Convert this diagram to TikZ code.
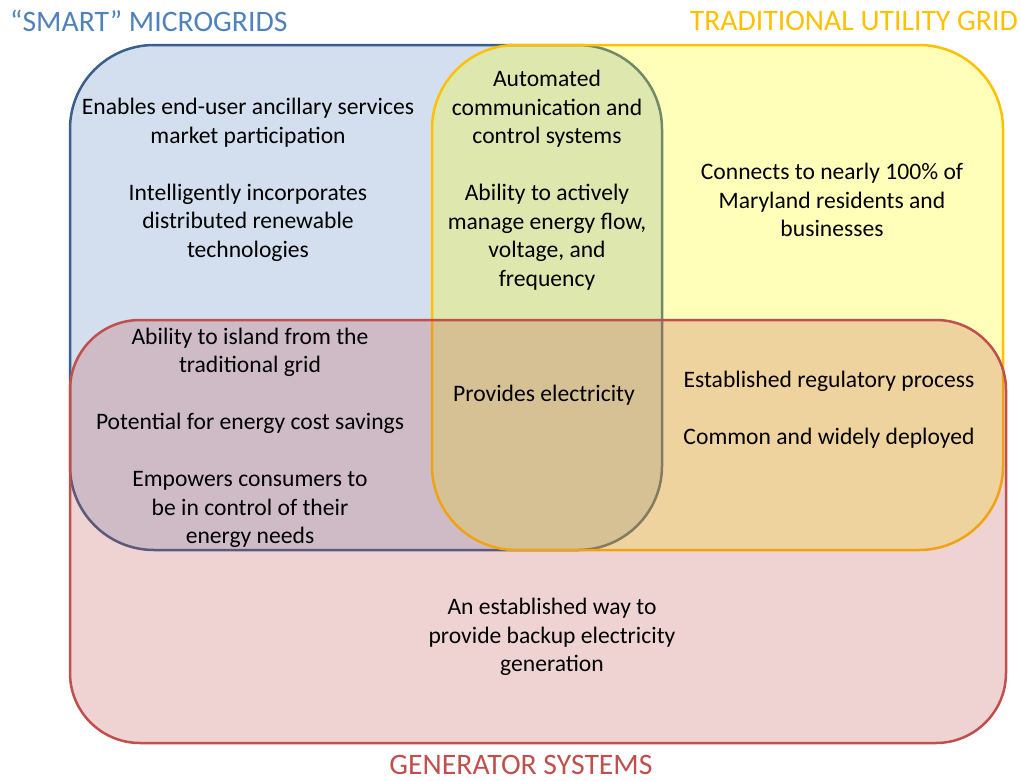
\documentclass[tikz,border=0pt]{standalone}
\usepackage{fontspec}
\setmainfont{Carlito}
\usetikzlibrary{positioning}
\definecolor{smartblue}{HTML}{4F81BD}
\definecolor{smartedge}{HTML}{3B5E8C}
\definecolor{gridyellow}{HTML}{FFFF00}
\definecolor{gridedge}{HTML}{FFC000}
\definecolor{genred}{HTML}{C0504D}
\begin{document}
\begin{tikzpicture}[x=1pt,y=-1pt,
    setbox/.style={line width=2.5pt,rounded corners=#1},
    txt/.style={align=center,inner sep=0pt,font=\fontsize{23.6}{28.5}\selectfont},
    ttl/.style={inner sep=0pt,font=\fontsize{29.7}{34}\selectfont}]
  \useasboundingbox (0,0) rectangle (1021,780);
  % the three sets
  \draw[setbox=84pt,draw=smartedge,fill=smartblue,fill opacity=.25](70,45)rectangle(662,550);
  \draw[setbox=84pt,draw=gridedge,fill=gridyellow,fill opacity=.27](432,45)rectangle(1003,550);
  \draw[setbox=70pt,draw=genred,fill=genred,fill opacity=.25](70,320)rectangle(1006,743);
  % set names
  \node[ttl,anchor=west,text=smartblue](smart)at(10,21){“SMART” MICROGRIDS};
  \node[ttl,anchor=east,text=gridedge](utility)at(1018,21){TRADITIONAL UTILITY GRID};
  \node[ttl,text=genred](gen)at(521,765){GENERATOR SYSTEMS};
  % regions
  \node[txt](microonly)at(248,180){Enables end-user ancillary services\\market participation\\[28.5pt]
    Intelligently incorporates\\distributed renewable\\technologies};
  \node[txt](microgrid)at(547,180){Automated\\communication and\\control systems\\[28.5pt]
    Ability to actively\\manage energy flow,\\voltage, and\\frequency};
  \node[txt](gridonly)at(832,200){Connects to nearly 100\% of\\Maryland residents and\\businesses};
  \node[txt](microgen)at(250,438){Ability to island from the\\traditional grid\\[28.5pt]
    Potential for energy cost savings\\[28.5pt]
    Empowers consumers to\\be in control of their\\energy needs};
  \node[txt](allthree)at(544,395){Provides electricity};
  \node[txt](gridgen)at(829,410){Established regulatory process\\[28.5pt]Common and widely deployed};
  \node[txt](genonly)at(552,637){An established way to\\provide backup electricity\\generation};
\end{tikzpicture}
\end{document}
